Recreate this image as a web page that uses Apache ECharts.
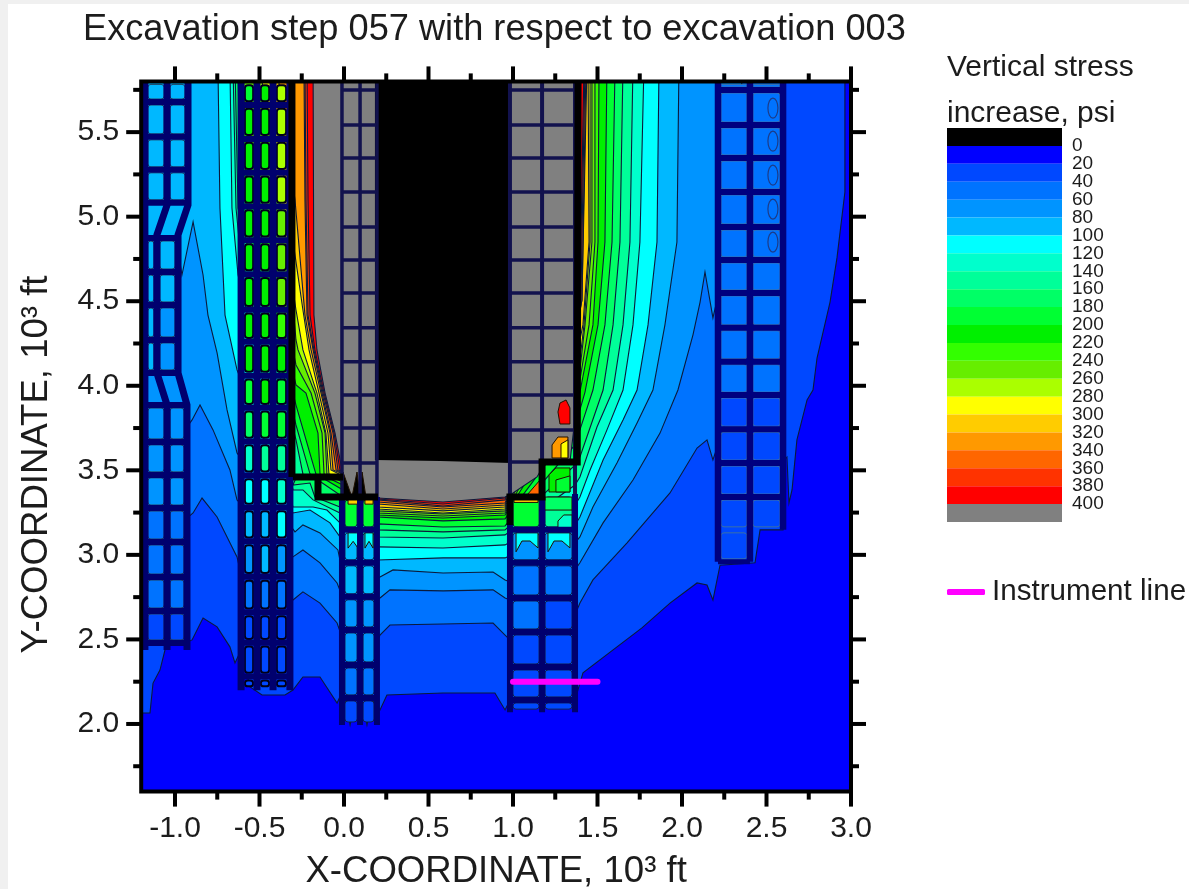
<!DOCTYPE html>
<html>
<head>
<meta charset="utf-8">
<title>Vertical stress contours</title>
<script src="https://cdn.jsdelivr.net/npm/echarts@6/dist/echarts.min.js"></script>
<style>
html,body{margin:0;padding:0;background:#f0f0f0;width:1189px;height:889px;overflow:hidden}
#panel{position:absolute;left:8px;top:4px;right:0;bottom:0;background:#fff}
#main{position:absolute;left:0;top:0;width:1189px;height:889px;filter:blur(.55px)}
</style>
</head>
<body>
<div id="panel"></div>
<div id="main"></div>
<script>
// ---- scale labels
const xTickLabels = [-1, -0.5, 0, 0.5, 1, 1.5, 2, 2.5, 3];
const yTickLabels = [2, 2.5, 3, 3.5, 4, 4.5, 5, 5.5];
const xMinorTicks = [-0.75, -0.25, 0.25, 0.75, 1.25, 1.75, 2.25, 2.75];
const yMinorTicks = [1.75, 2.25, 2.75, 3.25, 3.75, 4.25, 4.75, 5.25, 5.75];
// ---- colour scale (psi)
const legendLows  = [-20,0,20,40,60,80,100,120,140,160,180,200,220,240,260,280,300,320,340,360,380,400];
const legendColors = ['#000000','#0000ff','#0048ff','#0073ff','#0094ff','#00b8ff','#00ffff','#00ffcc','#00ff99','#00ff66','#00ff33','#00f000','#33ff00','#66ee00','#aaff00','#ffff00','#ffcc00','#ff9900','#ff6600','#ff3300','#ff0000','#808080'];
const legendLabels = [0,20,40,60,80,100,120,140,160,180,200,220,240,260,280,300,320,340,360,380,400];
// ---- isolines: [x, y] in 10^3 ft
const contour0 = [[-1.3,5.9],[-1.3,1.5],[3.1,1.5],[3.1,5.9]];
const contour20 = [[-1.3,5.9],[-1.3,2.065],[-1.148,2.065],[-1.13,2.242],[-1.089,2.319],[-1.059,2.438],[-1.03,2.467],[-0.941,2.479],[-0.899,2.497],[-0.834,2.627],[-0.751,2.574],[-0.675,2.456],[-0.645,2.361],[-0.609,2.438],[-0.556,2.219],[-0.485,2.171],[-0.349,2.171],[-0.302,2.201],[-0.243,2.278],[-0.142,2.278],[-0.041,2.124],[-0.006,2.201],[0.006,2.142],[0.036,1.994],[0.065,2.142],[0.107,2.142],[0.136,1.994],[0.166,2.142],[0.213,2.083],[0.254,2.171],[0.586,2.183],[0.893,2.183],[0.953,2.083],[0.982,2.142],[1.367,2.142],[1.414,2.302],[1.763,2.568],[1.929,2.715],[2.089,2.834],[2.148,2.822],[2.183,2.733],[2.225,2.939],[2.432,2.953],[2.462,3.148],[2.598,3.148],[2.604,3.561],[2.621,3.579],[2.633,3.307],[2.651,3.384],[2.68,3.68],[2.74,3.916],[2.775,3.975],[2.799,4.164],[2.876,4.495],[2.917,4.756],[2.964,5.146],[2.964,5.9]];
const contour40 = [[-1.3,5.9],[-1.3,3.059],[-0.941,3.207],[-0.893,3.248],[-0.84,3.336],[-0.751,3.224],[-0.675,3.071],[-0.633,2.988],[-0.609,2.88],[-0.302,2.733],[-0.243,2.781],[-0.142,2.715],[-0.041,2.597],[-0.006,2.497],[0.201,2.497],[0.213,2.526],[0.272,2.585],[0.586,2.591],[0.882,2.597],[0.953,2.526],[0.982,2.497],[1.367,2.645],[1.396,2.715],[1.473,2.852],[1.675,3.071],[1.929,3.366],[2.089,3.632],[2.148,3.68],[2.183,3.561],[2.402,4.212],[2.598,5.9]];
const contour60 = [[-1.3,5.9],[-1.3,3.68],[-0.941,3.739],[-0.899,3.798],[-0.852,3.886],[-0.775,3.739],[-0.675,3.502],[-0.633,3.325],[-0.302,2.988],[-0.243,3.029],[-0.142,2.953],[-0.041,2.834],[-0.006,2.745],[0.201,2.733],[0.213,2.745],[0.272,2.793],[0.586,2.787],[0.882,2.793],[0.953,2.745],[0.982,2.733],[1.367,2.911],[1.396,2.953],[1.533,3.189],[1.71,3.443],[1.87,3.72],[1.976,3.975],[2.065,4.301],[2.107,4.495],[2.136,4.673],[2.183,4.401],[2.343,5.1],[2.355,5.9]];
const contour80 = [[-1.3,5.9],[-1.3,4.862],[-0.982,4.803],[-0.959,4.655],[-0.893,4.969],[-0.834,4.655],[-0.805,4.418],[-0.751,4.194],[-0.692,3.857],[-0.633,3.603],[-0.29,3.136],[-0.243,3.177],[-0.142,3.13],[-0.036,3.029],[-0.006,2.88],[0.201,2.864],[0.213,2.869],[0.29,2.911],[0.586,2.893],[0.882,2.899],[0.953,2.852],[0.982,2.84],[1.367,3.071],[1.396,3.106],[1.473,3.283],[1.615,3.543],[1.734,3.78],[1.828,3.975],[1.899,4.36],[1.97,4.85],[1.982,5.9]];
const contour100 = [[-0.746,5.9],[-0.734,5.051],[-0.704,4.418],[-0.633,4.094],[-0.302,3.248],[-0.201,3.265],[-0.083,3.189],[-0.024,3.106],[0.201,2.97],[0.586,2.982],[0.953,2.982],[1.367,3.177],[1.396,3.224],[1.533,3.561],[1.651,3.798],[1.734,3.975],[1.799,4.36],[1.852,4.85],[1.864,5.9]];
const contour120 = [[-0.675,5.9],[-0.663,5.051],[-0.627,4.655],[-0.302,3.283],[-0.183,3.283],[-0.101,3.265],[-0.024,3.189],[0.201,3.047],[0.586,3.041],[0.953,3.059],[1.367,3.295],[1.396,3.342],[1.456,3.502],[1.556,3.739],[1.651,3.975],[1.71,4.36],[1.751,4.85],[1.775,5.9]];
const contour140 = [[-0.657,5.9],[-0.639,5.051],[-0.615,4.803],[-0.302,3.384],[-0.243,3.384],[-0.183,3.325],[-0.024,3.248],[0.201,3.106],[0.586,3.1],[0.953,3.118],[1.367,3.413],[1.396,3.461],[1.497,3.756],[1.592,3.975],[1.651,4.36],[1.692,4.85],[1.71,5.9]];
const contour160 = [[-0.645,5.9],[-0.627,5.051],[-0.284,3.68],[-0.243,3.478],[-0.284,3.455],[-0.302,3.413],[-0.201,3.425],[-0.172,3.342],[-0.024,3.283],[0.201,3.148],[0.586,3.136],[0.953,3.148],[1.367,3.531],[1.396,3.579],[1.533,3.975],[1.592,4.36],[1.633,4.85],[1.651,5.9]];
const contour180 = [[-0.627,5.9],[-0.615,5.1],[-0.284,3.768],[-0.201,3.478],[-0.154,3.443],[-0.006,3.342],[0.006,3.177],[0.201,3.183],[0.586,3.165],[0.953,3.171],[1.367,3.65],[1.396,3.739],[1.473,3.975],[1.544,4.36],[1.586,4.85],[1.604,5.9]];
const contour200 = [[-0.615,5.9],[-0.615,5.217],[-0.284,3.886],[-0.166,3.478],[-0.006,3.384],[0.201,3.224],[0.586,3.201],[0.953,3.213],[1.367,3.768],[1.396,3.857],[1.426,3.963],[1.503,4.36],[1.544,4.85],[1.556,5.9]];
const contour220 = [[-0.609,5.9],[-0.609,5.394],[-0.284,4.005],[-0.225,3.957],[-0.154,3.72],[-0.142,3.478],[-0.006,3.413],[0.201,3.236],[0.586,3.218],[0.953,3.236],[1.367,3.886],[1.396,3.963],[1.473,4.36],[1.503,4.85],[1.509,5.9]];
const contour240 = [[-0.6,5.9],[-0.586,5.571],[-0.284,4.123],[-0.195,3.957],[-0.13,3.72],[-0.118,3.478],[-0.006,3.431],[0.201,3.248],[0.586,3.23],[0.953,3.248],[1.367,3.975],[1.396,4.035],[1.45,4.36],[1.485,4.85],[1.485,5.9]];
const contour260 = [[-0.58,5.9],[-0.4,5.6],[-0.284,4.271],[-0.272,4.212],[-0.172,3.957],[-0.112,3.72],[-0.101,3.478],[-0.006,3.443],[0.201,3.26],[0.586,3.242],[0.953,3.26],[1.367,4.064],[1.396,4.094],[1.426,4.36],[1.467,4.85],[1.467,5.9]];
const contour280 = [[-0.5,5.9],[-0.284,4.448],[-0.243,4.212],[-0.16,3.957],[-0.107,3.72],[-0.089,3.478],[-0.006,3.455],[0.201,3.271],[0.586,3.248],[0.953,3.271],[1.367,4.123],[1.396,4.153],[1.42,4.36],[1.456,4.85],[1.456,5.9]];
const contour300 = [[-0.45,5.9],[-0.29,4.774],[-0.243,4.448],[-0.207,4.212],[-0.148,3.957],[-0.095,3.72],[-0.077,3.502],[-0.006,3.467],[0.201,3.283],[0.586,3.26],[0.953,3.283],[1.367,4.212],[1.396,4.271],[1.414,4.36],[1.45,4.85],[1.444,5.9]];
const contour320 = [[-0.4,5.9],[-0.29,5.1],[-0.231,4.418],[-0.195,4.212],[-0.136,3.957],[-0.083,3.72],[-0.065,3.502],[-0.006,3.478],[0.201,3.301],[0.586,3.271],[0.953,3.295],[1.367,4.271],[1.408,4.507],[1.438,5.9]];
const contour340 = [[-0.237,5.9],[-0.231,5.1],[-0.219,4.418],[-0.183,4.212],[-0.13,3.957],[-0.077,3.72],[-0.047,3.502],[0,3.478],[0.201,3.313],[0.586,3.283],[0.953,3.307],[1.367,4.301],[1.408,4.507],[1.432,5.9]];
const contour360 = [[-0.231,5.9],[-0.225,5.1],[-0.213,4.418],[-0.178,4.212],[-0.124,3.957],[-0.065,3.72],[-0.036,3.502],[0.006,3.484],[0.201,3.325],[0.586,3.289],[0.953,3.325],[1.367,4.33],[1.402,4.507],[1.426,5.9]];
const contour380 = [[-0.219,5.9],[-0.213,5.1],[-0.201,4.418],[-0.172,4.212],[-0.118,3.957],[-0.059,3.72],[-0.024,3.502],[0.012,3.49],[0.201,3.33],[0.586,3.301],[0.953,3.336],[1.367,4.36],[1.396,4.507],[1.42,5.9]];
const contour400 = [[-0.183,5.9],[-0.178,4.418],[-0.16,4.212],[-0.112,3.957],[-0.053,3.72],[-0.012,3.502],[-0.006,3.342],[0.201,3.336],[0.586,3.313],[0.953,3.342],[1,3.366],[1.142,3.461],[1.189,3.543],[1.337,3.549],[1.385,3.963],[1.385,5.9]];
const contourLevels = [0,20,40,60,80,100,120,140,160,180,200,220,240,260,280,300,320,340,360,380,400];
const contours = [contour0,contour20,contour40,contour60,contour80,contour100,contour120,contour140,contour160,contour180,contour200,contour220,contour240,contour260,contour280,contour300,contour320,contour340,contour360,contour380,contour400];
const belowZeroZone = [[0.183,5.9],[0.183,3.561],[0.57,3.555],[0.988,3.543],[0.988,5.9]];
// ---- isolated closed contours inside the cells
const islandLevels = [385,330,285,215,185,300,170,120,350,300,300,-1,-1,-1,110,110,110,110];
const islandShapes = [
 [[1.278,3.898],[1.314,3.916],[1.337,3.869],[1.337,3.774],[1.278,3.774],[1.266,3.845]],
 [[1.231,3.573],[1.231,3.65],[1.266,3.697],[1.325,3.697],[1.325,3.573]],
 [[1.284,3.573],[1.284,3.656],[1.325,3.68],[1.325,3.573]],
 [[1.213,3.372],[1.213,3.473],[1.254,3.514],[1.337,3.514],[1.337,3.372]],
 [[1.254,3.372],[1.254,3.443],[1.337,3.467],[1.337,3.372]],
 [[1.006,3.342],[1.148,3.342],[1.148,3.31],[1.006,3.31]],
 [[1.189,3.342],[1.349,3.342],[1.349,3.265],[1.189,3.265]],
 [[1.266,3.159],[1.266,3.2],[1.3,3.236],[1.349,3.236],[1.349,3.159]],
 [[1.083,3.354],[1.16,3.443],[1.16,3.354]],
 [[0.024,3.342],[0.083,3.342],[0.083,3.3],[0.024,3.3]],
 [[0.124,3.342],[0.172,3.342],[0.172,3.3],[0.124,3.3]],
 [[-0.006,3.49],[0.047,3.342],[-0.006,3.342]],
 [[0.077,3.49],[0.095,3.342],[0.047,3.342]],
 [[0.107,3.49],[0.13,3.342],[0.095,3.342]],
 [[1.018,3.13],[1.148,3.13],[1.148,3.041],[1.101,3.082],[1.053,3.082],[1.018,3.018]],
 [[1.207,3.13],[1.337,3.13],[1.337,3.041],[1.29,3.082],[1.243,3.082],[1.207,3.018]],
 [[0.024,3.13],[0.083,3.13],[0.083,3.04],[0.054,3.08],[0.024,3.04]],
 [[0.124,3.13],[0.172,3.13],[0.172,3.04],[0.148,3.08],[0.124,3.04]]
];
// ---- closed rings in the right-hand pillar cells: centre [x, y]
const eRingCenters = [[2.538,5.642],[2.538,5.447],[2.538,5.246],[2.538,5.045],[2.538,4.85]];
// ---- pillar grids
const aColsUpper = [-1.178,-1.047,-0.923];
const aEdgesUpper = [5.8,5.678,5.472,5.277,5.082];
const aCellsUpper = [[90,90],[90,90],[90,90],[90,90]];
const aColsMid = [-1.178,-1.107,-0.982];
const aEdgesMid = [4.874,4.673,4.478,4.271,4.076];
const aCellsMid = [[90,85],[90,85],[90,75],[85,75]];
const aColsLow = [-1.178,-1.047,-0.929];
const aEdgesLow = [3.886,3.668,3.473,3.277,3.076,2.869,2.668,2.479];
const aCellsLow = [[70,70],[70,70],[60,60],[50,50],[50,50],[45,45],[35,35]];
const aColumnPaths = [
 [[-1.178,5.8],[-1.178,2.438]],
 [[-1.047,5.8],[-1.047,5.069],[-1.107,4.892],[-1.107,4.076],[-1.047,3.886],[-1.047,2.438]],
 [[-0.923,5.8],[-0.923,5.069],[-0.982,4.892],[-0.982,4.076],[-0.929,3.886],[-0.929,2.438]]
];
const bCols = [-0.609,-0.515,-0.42,-0.32];
const bEdges = [5.8,5.66,5.46,5.26,5.06,4.86,4.66,4.45,4.26,4.06,3.87,3.67,3.47,3.28,3.08,2.87,2.66,2.48,2.28,2.2];
const bCells = [[195,205,265],[205,205,265],[205,205,265],[205,205,265],[205,205,250],[205,205,250],[205,205,250],[210,205,230],[205,205,215],[185,200,190],[160,185,180],[130,145,150],[110,110,125],[95,95,100],[70,80,75],[55,55,55],[35,35,35],[30,30,30],[25,25,25]];
const cCols = [-0.012,0.095,0.195];
const cRowsUpper = [5.749,5.542,5.347,5.146,4.939,4.744,4.549,4.343,4.142,3.945,3.75,3.543];
const cEdgesLower = [3.342,3.148,2.953,2.752,2.556,2.349,2.154,1.994];
const cCells = [[195,195],[90,90],[85,90],[75,75],[60,60],[50,50],[30,30]];
const dCols = [0.982,1.172,1.367];
const dRowsUpper = [5.749,5.542,5.347,5.146,4.939,4.744,4.549,4.343,4.142,3.945,3.739,3.549];
const dEdgesLower = [3.36,3.148,2.953,2.745,2.544,2.337,2.142,2.07];
const dCells = [[195,150],[70,70],[55,55],[40,35],[30,30],[25,25],[25,25]];
const eCols = [2.213,2.402,2.598];
const eEdges = [5.8,5.749,5.542,5.347,5.146,4.939,4.744,4.549,4.343,4.142,3.945,3.743,3.543,3.342,3.148,2.959];
const eCells = [[50,50],[50,50],[50,50],[50,50],[50,50],[50,50],[50,50],[50,50],[50,50],[50,50],[30,30],[30,30],[30,30],[30,30],[30,null]];
// ---- heavy stepped outlines
const leftStepPaths = [
 [[-0.308,5.8],[-0.308,3.461]],
 [[-0.302,3.461],[-0.006,3.461]],
 [[-0.154,3.461],[-0.154,3.342],[0.201,3.342]]
];
const rightStepPaths = [
 [[0.982,3.177],[0.982,3.342],[1.172,3.342],[1.172,3.549],[1.38,3.549],[1.385,5.8]]
];
const instrumentLine = [[1.0,2.25],[1.5,2.25]];

// ---- helpers
const colorOf = v => v >= 400 ? legendColors[21] : v < 0 ? legendColors[0] : legendColors[Math.floor(v/20)+1];
function polygonSeries(shapes, levels, z, stroke, width){
  return {type:'custom',coordinateSystem:'cartesian2d',clip:true,silent:true,z,
    data:shapes.map((s,i)=>[i]),
    renderItem(p,api){
      return {type:'polygon',shape:{points:shapes[p.dataIndex].map(c=>api.coord(c))},
        style:{fill:colorOf(levels[p.dataIndex]),stroke,lineWidth:width}};
    }};
}
function pathSeries(paths, width, color, z){
  return {type:'custom',coordinateSystem:'cartesian2d',clip:true,silent:true,z,
    data:paths.map((s,i)=>[i]),
    renderItem(p,api){
      return {type:'polyline',shape:{points:paths[p.dataIndex].map(c=>api.coord(c))},
        style:{fill:null,stroke:color,lineWidth:width,lineJoin:'miter'}};
    }};
}
function cellSeries(cols, edges, cells, inset, stroke, strokeWidth, z){
  const items=[];
  cells.forEach((row,r)=>row.forEach((v,c)=>{ if(v!==null) items.push([cols[c],edges[r],cols[c+1],edges[r+1],v]); }));
  return {type:'custom',coordinateSystem:'cartesian2d',clip:true,silent:true,z,
    data:items,
    renderItem(p,api){
      const a=api.coord([api.value(0),api.value(1)]), b=api.coord([api.value(2),api.value(3)]);
      return {type:'rect',shape:{x:a[0]+inset,y:a[1]+inset,width:b[0]-a[0]-2*inset,height:b[1]-a[1]-2*inset,r:3},
        style:{fill:colorOf(api.value(4)),stroke,lineWidth:strokeWidth}};
    }};
}
const ringSeries = (centers, z) => ({type:'custom',coordinateSystem:'cartesian2d',clip:true,silent:true,z,
    data:centers,
    renderItem(p,api){
      const c=api.coord([api.value(0),api.value(1)]);
      return {type:'ellipse',shape:{cx:c[0],cy:c[1],rx:5,ry:10},style:{fill:null,stroke:'#1c3c88',lineWidth:1.2}};
    }});
const colPaths=(cols,top,bottom)=>cols.map(x=>[[x,top],[x,bottom]]);
const rowPaths=(cols,rows)=>rows.map(y=>[[cols[0],y],[cols[cols.length-1],y]]);
function tickSeries(values, horizontal, length, width){
  return {type:'custom',coordinateSystem:'cartesian2d',silent:true,z:9,
    data:values.map(v=>[v]),
    renderItem(p,api){
      const v=api.value(0);
      if(horizontal){
        const a=api.coord([v,1.6]), b=api.coord([v,5.8]);
        return {type:'group',children:[
          {type:'line',shape:{x1:a[0],y1:a[1],x2:a[0],y2:a[1]+length},style:{stroke:'#000',lineWidth:width}},
          {type:'line',shape:{x1:b[0],y1:b[1],x2:b[0],y2:b[1]-length},style:{stroke:'#000',lineWidth:width}}]};
      }
      const a=api.coord([-1.2,v]), b=api.coord([3,v]);
      return {type:'group',children:[
        {type:'line',shape:{x1:a[0],y1:a[1],x2:a[0]-length,y2:a[1]},style:{stroke:'#000',lineWidth:width}},
        {type:'line',shape:{x1:b[0],y1:b[1],x2:b[0]+length,y2:b[1]},style:{stroke:'#000',lineWidth:width}}]};
    }};
}
const navy='#00006e', dark='#12124e', eNavy='#00007e';
const font='"Liberation Sans", Arial, sans-serif', ink='#1c1c1c';

const series=[
  polygonSeries(contours,contourLevels,2,'#0a1a3c',1.1),
  polygonSeries([belowZeroZone],[-1],2.5,'#000',0),
  cellSeries(aColsUpper,aEdgesUpper,aCellsUpper,3,'#204060',1,3),
  cellSeries(aColsMid,aEdgesMid,aCellsMid,3,'#204060',1,3),
  cellSeries(aColsLow,aEdgesLow,aCellsLow,3,'#204060',1,3),
  cellSeries(bCols,bEdges,bCells,3.8,'#000018',2,3),
  cellSeries(cCols,cEdgesLower,cCells,3,'#10204a',1,3),
  cellSeries(dCols,dEdgesLower,dCells,3,'#10204a',1,3),
  cellSeries(eCols,eEdges,eCells,3,'#3a70a8',1,3),
  polygonSeries(islandShapes,islandLevels,4,'#201000',1),
  ringSeries(eRingCenters,4),
  pathSeries(aColumnPaths,7,navy,5),
  pathSeries(rowPaths(aColsUpper,aEdgesUpper.slice(1)),6,navy,5),
  pathSeries(rowPaths(aColsMid,aEdgesMid),6,navy,5),
  pathSeries(rowPaths(aColsLow,aEdgesLow),6,navy,5),
  pathSeries(colPaths(bCols,5.8,2.2),7,navy,5),
  pathSeries(rowPaths(bCols,bEdges.slice(1,-1)),6,navy,5),
  pathSeries(colPaths(cCols,5.8,3.342),3.5,dark,5),
  pathSeries(rowPaths(cCols,cRowsUpper),3.5,dark,5),
  pathSeries(colPaths(cCols,3.342,1.994),6,navy,5),
  pathSeries(rowPaths(cCols,cEdgesLower.slice(1,-1)),6,navy,5),
  pathSeries(colPaths(dCols,5.8,3.36),4,dark,5),
  pathSeries(rowPaths(dCols,dRowsUpper),3.5,dark,5),
  pathSeries(colPaths(dCols,3.36,2.07),6,navy,5),
  pathSeries(rowPaths(dCols,dEdgesLower.slice(1,-1)),6,navy,5),
  pathSeries(colPaths(eCols.slice(0,2),5.8,2.959),6.5,eNavy,5),
  pathSeries(colPaths(eCols.slice(2),5.8,3.148),6.5,eNavy,5),
  pathSeries(rowPaths(eCols,eEdges.slice(1,-2)),6,eNavy,5),
  pathSeries(rowPaths(eCols.slice(0,2),eEdges.slice(-1)),5,eNavy,5),
  pathSeries(leftStepPaths,7,'#000',6),
  pathSeries(rightStepPaths,7,'#000',6),
  {name:'Instrument line',type:'line',data:instrumentLine,showSymbol:false,symbol:'none',z:7,silent:true,
    lineStyle:{color:'#ff00ff',width:6,cap:'round'},itemStyle:{color:'#ff00ff'}},
  {type:'custom',coordinateSystem:'cartesian2d',silent:true,z:8,data:[[0]],
    renderItem(p,api){
      const a=api.coord([-1.2,5.8]), b=api.coord([3,1.6]);
      return {type:'rect',shape:{x:a[0],y:a[1],width:b[0]-a[0],height:b[1]-a[1]},style:{fill:null,stroke:'#000',lineWidth:4}};
    }},
  tickSeries(xTickLabels,true,15,4),
  tickSeries(xMinorTicks,true,8,4),
  tickSeries(yTickLabels,false,15,4),
  tickSeries(yMinorTicks,false,8,4),
  {type:'custom',xAxisIndex:1,yAxisIndex:1,silent:true,z:3,
    data:legendLows.map((low,i)=>[low,i]),
    renderItem(p,api){
      const low=api.value(0);
      const a=api.coord([0,low]), b=api.coord([1,low+20]);
      return {type:'rect',shape:{x:a[0],y:a[1],width:b[0]-a[0],height:b[1]-a[1]},style:{fill:legendColors[p.dataIndex]}};
    }}
];

const legendAxis = values => ({type:'value',gridIndex:1,min:-20,max:420,inverse:true,position:'right',
  axisLine:{show:false},axisTick:{show:false},splitLine:{show:false},
  axisLabel:{customValues:values,showMinLabel:true,showMaxLabel:true,fontFamily:font,fontSize:19,color:ink,margin:10}});

const chart=echarts.init(document.getElementById('main'),null,{renderer:'canvas'});
chart.setOption({
  animation:false,
  textStyle:{fontFamily:font},
  title:[
    {text:'Excavation step 057 with respect to excavation 003',left:78,top:7,textStyle:{fontFamily:font,fontSize:36.2,fontWeight:'normal',color:ink}},
    {text:'Vertical stress\nincrease, psi',left:942,top:40,textStyle:{fontFamily:font,fontSize:30,fontWeight:'normal',color:ink,lineHeight:46}}
  ],
  legend:{data:['Instrument line'],left:942,top:572,itemWidth:38,itemHeight:6,icon:'roundRect',selectedMode:false,
    textStyle:{fontFamily:font,fontSize:29.6,color:ink,padding:[0,0,0,2]}},
  grid:[
    {left:141.2,top:81.4,width:709.8,height:710.2,containLabel:false,outerBoundsMode:'none'},
    {left:947,top:128,width:115,height:394,containLabel:false,outerBoundsMode:'none'}
  ],
  xAxis:[
    {type:'value',gridIndex:0,min:-1.2,max:3,name:'X-COORDINATE, 10³ ft',nameLocation:'middle',nameGap:62,
     nameTextStyle:{fontFamily:font,fontSize:36.6,color:ink},
     axisLine:{show:false},axisTick:{show:false},splitLine:{show:false},
     axisLabel:{customValues:xTickLabels,formatter:v=>v.toFixed(1),fontFamily:font,fontSize:30,color:ink,margin:22}},
    {type:'value',gridIndex:1,min:0,max:1,show:false}
  ],
  yAxis:[
    {type:'value',gridIndex:0,min:1.6,max:5.8,name:'Y-COORDINATE, 10³ ft',nameLocation:'middle',nameGap:86,nameRotate:90,
     nameTextStyle:{fontFamily:font,fontSize:36.6,color:ink,padding:[0,56,0,0]},
     axisLine:{show:false},axisTick:{show:false},splitLine:{show:false},
     axisLabel:{customValues:yTickLabels,formatter:v=>v.toFixed(1),fontFamily:font,fontSize:30,color:ink,margin:22}},
    legendAxis(legendLabels.filter((v,i)=>i%2===0)),
    legendAxis(legendLabels.filter((v,i)=>i%2===1))
  ],
  series
});
</script>
</body>
</html>
